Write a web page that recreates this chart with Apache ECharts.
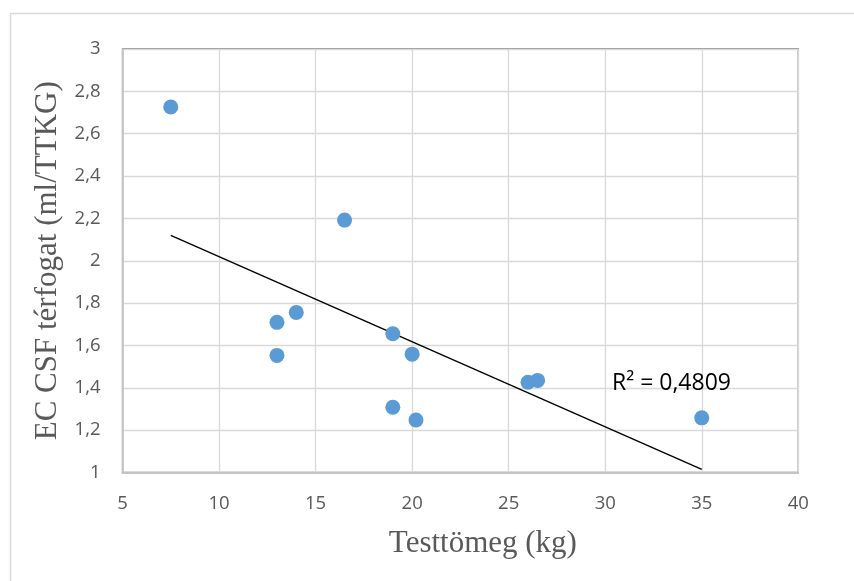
<!DOCTYPE html>
<html>
<head>
<meta charset="utf-8">
<script src="https://cdn.jsdelivr.net/npm/echarts@6/dist/echarts.min.js"></script>
<style>html,body{margin:0;padding:0;background:#fff;}#c{width:854px;height:581px;}</style>
</head>
<body>
<div id="c"></div>
<script>
const weightKg = [7.5, 16.5, 13, 14, 13, 19, 20, 19, 20.2, 26, 26.5, 35];
const csfVolume = [2.726, 2.192, 1.709, 1.756, 1.553, 1.655, 1.559, 1.308, 1.248, 1.426, 1.435, 1.258];
const xTitle = 'Testtömeg (kg)';
const yTitle = 'EC CSF térfogat (ml/TTKG)';
const r2Text = 'R² = 0,4809';
const r2Anchor = [30.35, 1.422];

// least-squares trendline from data
const n = weightKg.length;
const mx = weightKg.reduce((a, b) => a + b, 0) / n;
const my = csfVolume.reduce((a, b) => a + b, 0) / n;
let sxy = 0, sxx = 0;
for (let i = 0; i < n; i++) { sxy += (weightKg[i] - mx) * (csfVolume[i] - my); sxx += (weightKg[i] - mx) ** 2; }
const slope = sxy / sxx, icpt = my - slope * mx;
const xMin = Math.min(...weightKg), xMax = Math.max(...weightKg);
const trend = [[xMin, icpt + slope * xMin], [xMax, icpt + slope * xMax]];

const chart = echarts.init(document.getElementById('c'));
const tickFont = { fontFamily: 'Open Sans', fontSize: 18.5, color: '#595959' };
chart.setOption({
  animation: false,
  backgroundColor: '#fff',
  grid: { left: 122.5, right: 55.7, top: 49, bottom: 108.5, show: true, borderColor: '#707070', borderWidth: 1.3 },
  xAxis: {
    type: 'value', min: 5, max: 40, interval: 5,
    name: xTitle, nameLocation: 'middle', nameGap: 56,
    nameTextStyle: { fontFamily: 'Liberation Serif', fontSize: 31, color: '#595959', padding: [0, 0, 0, 45] },
    axisLine: { show: true, onZero: false, lineStyle: { color: '#bfbfbf', width: 1.5 } },
    axisTick: { show: false },
    axisLabel: Object.assign({ margin: 22 }, tickFont),
    splitLine: { show: true, lineStyle: { color: '#d9d9d9', width: 1.3 } }
  },
  yAxis: {
    type: 'value', min: 1, max: 3, interval: 0.2,
    name: yTitle, nameLocation: 'middle', nameGap: 58, nameRotate: 90,
    nameTextStyle: { fontFamily: 'Liberation Serif', fontSize: 31, color: '#595959' },
    axisLine: { show: true, onZero: false, lineStyle: { color: '#bfbfbf', width: 1.5 } },
    axisTick: { show: false },
    axisLabel: Object.assign({ margin: 22, formatter: v => (Math.round(v * 10) / 10).toString().replace('.', ',') }, tickFont),
    splitLine: { show: true, lineStyle: { color: '#d9d9d9', width: 1.3 } }
  },
  series: [
    {
      type: 'line', data: trend, symbol: 'none', silent: true, z: 3,
      lineStyle: { color: '#000', width: 1.4 }
    },
    {
      type: 'scatter', data: weightKg.map((x, i) => [x, csfVolume[i]]),
      symbolSize: 15, z: 4,
      itemStyle: { color: '#5b9bd5', opacity: 1 }
    }
  ]
});
const p = chart.convertToPixel({ gridIndex: 0 }, r2Anchor);
chart.setOption({
  graphic: [
    { type: 'rect', shape: { x: 10.5, y: 13.5, width: 900, height: 700 }, style: { fill: 'none', stroke: '#d9d9d9', lineWidth: 1.5 }, silent: true, z: -1 },
    { type: 'text', x: p[0], y: p[1], style: { text: r2Text, fontFamily: 'Open Sans', fontSize: 23, fill: '#000', textVerticalAlign: 'middle', textAlign: 'left' }, z: 10 }
  ]
});
</script>
</body>
</html>
